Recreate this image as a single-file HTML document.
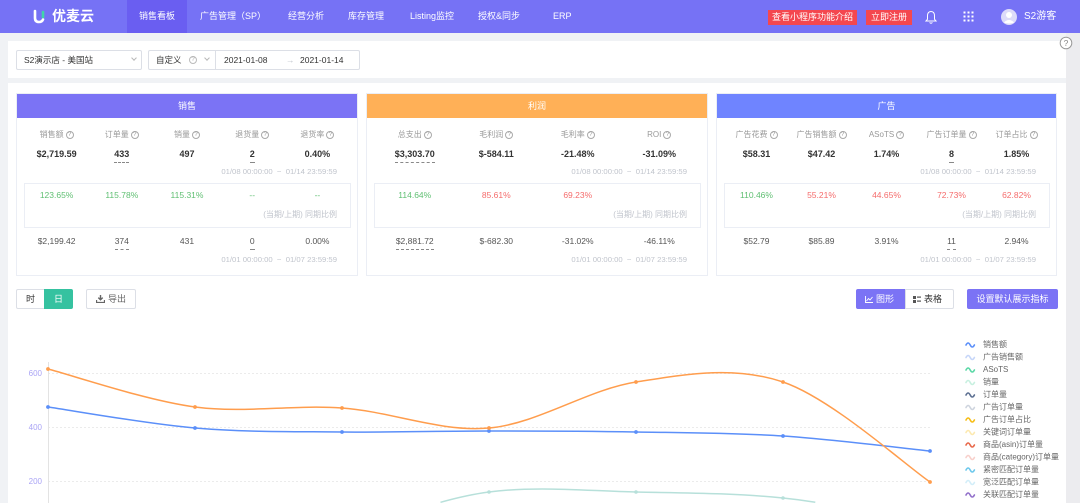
<!DOCTYPE html>
<html><head><meta charset="utf-8">
<style>
*{box-sizing:border-box;margin:0;padding:0}
body{width:1080px;height:503px;overflow:hidden;position:relative;background:#f0f2f5;font-family:"Liberation Sans","Noto Sans CJK SC",sans-serif;color:#333}
.a{position:absolute}
.nav{left:0;top:0;width:1080px;height:33px;background:#7672f5}
.ni{position:absolute;top:0;height:33px;line-height:33px;font-size:9px;color:#fff;white-space:nowrap}
.rb{position:absolute;top:10px;height:15px;line-height:15px;font-size:9px;color:#fff;background:#f4474f;text-align:center;white-space:nowrap}
.wbox{position:absolute;background:#fff}
.fb{position:absolute;top:50px;height:20px;border:1px solid #dcdfe6;border-radius:2px;background:#fff;font-size:8.5px;line-height:18px;color:#333;white-space:nowrap}
.chev{position:absolute;width:4px;height:4px;border-right:1px solid #b8b8b8;border-bottom:1px solid #b8b8b8;transform:rotate(45deg)}
.q{display:inline-block;width:8px;height:8px;border:1px solid #aaa;border-radius:50%;font-size:6px;line-height:6px;text-align:center;color:#999;margin-left:2px;vertical-align:middle;font-family:"Liberation Sans",sans-serif}
.card{position:absolute;top:93px;height:183px;border:1px solid #ebeef5;background:#fff}
.hd{height:24px;line-height:24px;text-align:center;color:#fff;font-size:9px}
.row{position:absolute;left:7px;right:7px;display:flex;line-height:12px;white-space:nowrap}
.row>div{flex:1;text-align:center}
.lab{font-size:8px;color:#999}
.val{font-size:9px;font-weight:bold;color:#333}
.val2{font-size:8.5px;color:#555}
.pct{font-size:8.5px}
.g{color:#5fbf72}.r{color:#f56c6c}
.dt{position:absolute;right:20px;font-size:7.7px;line-height:12px;color:#c0c4cc;white-space:nowrap}
.box{position:absolute;left:7px;right:6px;top:89px;height:45px;border:1px solid #ebeef5}
.u{display:inline-block;border-bottom:1px dashed #888;padding-bottom:2px;line-height:11px}
.btn{position:absolute;top:289px;height:20px;line-height:18px;font-size:9px;text-align:center;white-space:nowrap;border:1px solid #dcdfe6;background:#fff;color:#333}
</style></head><body>

<!-- NAV -->
<div class="a nav"></div>
<div class="a" style="left:127px;top:0;width:60px;height:33px;background:#6a5ef1"></div>
<svg class="a" style="left:32px;top:9px" width="14" height="16">
  <path d="M3 2 L3 9 Q3 13 7 13 Q10 13 11 10.5" fill="none" stroke="#fff" stroke-width="2.6" stroke-linecap="round"/>
  <path d="M11 3 L11 8" stroke="#3fd6a9" stroke-width="2.6" stroke-linecap="round"/>
</svg>
<div class="ni" style="left:52px;font-size:14px;font-weight:bold">优麦云</div>
<div class="ni" style="left:139px">销售看板</div>
<div class="ni" style="left:200px">广告管理（SP）</div>
<div class="ni" style="left:288px">经营分析</div>
<div class="ni" style="left:348px">库存管理</div>
<div class="ni" style="left:410px">Listing监控</div>
<div class="ni" style="left:478px">授权&amp;同步</div>
<div class="ni" style="left:553px">ERP</div>
<div class="rb" style="left:768px;width:89px">查看小程序功能介绍</div>
<div class="rb" style="left:866px;width:46px">立即注册</div>
<svg class="a" style="left:925px;top:10px" width="12" height="15">
  <path d="M6 1.5 C3.4 1.5 2.5 3.6 2.5 6 L2.5 9.2 L1 11 L11 11 L9.5 9.2 L9.5 6 C9.5 3.6 8.6 1.5 6 1.5Z" fill="none" stroke="#fff" stroke-width="1"/>
  <path d="M4.6 12.4 Q6 14 7.4 12.4" fill="none" stroke="#fff" stroke-width="1"/>
</svg>
<svg class="a" style="left:963px;top:11px" width="12" height="12" fill="#fff">
  <rect x="0.5" y="0.5" width="2" height="2"/><rect x="4.5" y="0.5" width="2" height="2"/><rect x="8.5" y="0.5" width="2" height="2"/>
  <rect x="0.5" y="4.5" width="2" height="2"/><rect x="4.5" y="4.5" width="2" height="2"/><rect x="8.5" y="4.5" width="2" height="2"/>
  <rect x="0.5" y="8.5" width="2" height="2"/><rect x="4.5" y="8.5" width="2" height="2"/><rect x="8.5" y="8.5" width="2" height="2"/>
</svg>
<svg class="a" style="left:1001px;top:9px" width="16" height="16">
  <circle cx="8" cy="8" r="8" fill="#dddbf9"/>
  <circle cx="8" cy="6" r="3" fill="#fff"/>
  <path d="M2.8 13.5 Q8 8.5 13.2 13.5 Q8 15.5 2.8 13.5Z" fill="#fff"/>
</svg>
<div class="ni" style="left:1024px;font-size:10px">S2游客</div>

<!-- right strip -->
<div class="a" style="left:1066px;top:33px;width:14px;height:470px;background:#ececef"></div>

<!-- FILTER BAR -->
<div class="wbox" style="left:8px;top:41px;width:1058px;height:37px"></div>
<div class="fb" style="left:16px;width:126px;padding-left:7px">S2演示店 - 美国站<span class="chev" style="left:115px;top:5px"></span></div>
<div class="fb" style="left:148px;width:212px">
  <span class="a" style="left:7px">自定义</span>
  <span class="a" style="left:40px;top:5px;width:8px;height:8px;border:1px solid #bbb;border-radius:50%;font-size:6px;line-height:6px;text-align:center;color:#aaa">?</span>
  <span class="chev" style="left:56px;top:5px"></span>
  <span class="a" style="left:66px;top:0;width:1px;height:18px;background:#dcdfe6"></span>
  <span class="a" style="left:75px">2021-01-08</span>
  <span class="a" style="left:137px;color:#c0c4cc">→</span>
  <span class="a" style="left:151px">2021-01-14</span>
</div>
<svg class="a" style="left:1059px;top:36px" width="14" height="14">
  <circle cx="7" cy="7" r="5.8" fill="#fff" stroke="#999" stroke-width="1"/>
  <text x="7" y="10" text-anchor="middle" font-size="8.5" fill="#888" font-family="Liberation Sans">?</text>
</svg>

<!-- MAIN WHITE -->
<div class="wbox" style="left:8px;top:83px;width:1058px;height:420px"></div>

<!-- CARD 1 -->
<div class="card" style="left:16px;width:342px">
  <div class="hd" style="background:#7b73f5">销售</div>
  <div class="row lab" style="top:35px"><div>销售额<span class="q">?</span></div><div>订单量<span class="q">?</span></div><div>销量<span class="q">?</span></div><div>退货量<span class="q">?</span></div><div>退货率<span class="q">?</span></div></div>
  <div class="row val" style="top:54px"><div>$2,719.59</div><div><span class="u">433</span></div><div>497</div><div><span class="u">2</span></div><div>0.40%</div></div>
  <div class="dt" style="top:72px">01/08 00:00:00 &nbsp;~ &nbsp;01/14 23:59:59</div>
  <div class="box"></div>
  <div class="row pct" style="top:95px"><div class="g">123.65%</div><div class="g">115.78%</div><div class="g">115.31%</div><div class="g">--</div><div class="g">--</div></div>
  <div class="dt" style="top:115px;font-size:8px">(当期/上期) 同期比例</div>
  <div class="row val2" style="top:141px"><div>$2,199.42</div><div><span class="u">374</span></div><div>431</div><div><span class="u">0</span></div><div>0.00%</div></div>
  <div class="dt" style="top:160px">01/01 00:00:00 &nbsp;~ &nbsp;01/07 23:59:59</div>
</div>

<!-- CARD 2 -->
<div class="card" style="left:366px;width:342px">
  <div class="hd" style="background:#ffb057">利润</div>
  <div class="row lab" style="top:35px"><div>总支出<span class="q">?</span></div><div>毛利润<span class="q">?</span></div><div>毛利率<span class="q">?</span></div><div>ROI<span class="q">?</span></div></div>
  <div class="row val" style="top:54px"><div><span class="u">$3,303.70</span></div><div>$-584.11</div><div>-21.48%</div><div>-31.09%</div></div>
  <div class="dt" style="top:72px">01/08 00:00:00 &nbsp;~ &nbsp;01/14 23:59:59</div>
  <div class="box"></div>
  <div class="row pct" style="top:95px"><div class="g">114.64%</div><div class="r">85.61%</div><div class="r">69.23%</div><div></div></div>
  <div class="dt" style="top:115px;font-size:8px">(当期/上期) 同期比例</div>
  <div class="row val2" style="top:141px"><div><span class="u">$2,881.72</span></div><div>$-682.30</div><div>-31.02%</div><div>-46.11%</div></div>
  <div class="dt" style="top:160px">01/01 00:00:00 &nbsp;~ &nbsp;01/07 23:59:59</div>
</div>

<!-- CARD 3 -->
<div class="card" style="left:716px;width:341px">
  <div class="hd" style="background:#6f84ff">广告</div>
  <div class="row lab" style="top:35px"><div>广告花费<span class="q">?</span></div><div>广告销售额<span class="q">?</span></div><div>ASoTS<span class="q">?</span></div><div>广告订单量<span class="q">?</span></div><div>订单占比<span class="q">?</span></div></div>
  <div class="row val" style="top:54px"><div>$58.31</div><div>$47.42</div><div>1.74%</div><div><span class="u">8</span></div><div>1.85%</div></div>
  <div class="dt" style="top:72px">01/08 00:00:00 &nbsp;~ &nbsp;01/14 23:59:59</div>
  <div class="box"></div>
  <div class="row pct" style="top:95px"><div class="g">110.46%</div><div class="r">55.21%</div><div class="r">44.65%</div><div class="r">72.73%</div><div class="r">62.82%</div></div>
  <div class="dt" style="top:115px;font-size:8px">(当期/上期) 同期比例</div>
  <div class="row val2" style="top:141px"><div>$52.79</div><div>$85.89</div><div>3.91%</div><div><span class="u">11</span></div><div>2.94%</div></div>
  <div class="dt" style="top:160px">01/01 00:00:00 &nbsp;~ &nbsp;01/07 23:59:59</div>
</div>

<!-- TOOLBAR -->
<div class="btn" style="left:16px;width:29px;border-radius:2px 0 0 2px">时</div>
<div class="btn" style="left:44px;width:29px;background:#35c2a0;border-color:#35c2a0;color:#fff;border-radius:0 2px 2px 0">日</div>
<div class="btn" style="left:86px;width:50px;color:#666;border-radius:2px">
  <svg style="position:absolute;left:9px;top:5px" width="9" height="8"><path d="M4.5 0 L4.5 4.5 M2.3 2.6 L4.5 4.8 L6.7 2.6" stroke="#666" stroke-width="1.4" fill="none"/><path d="M0.5 5 L0.5 7.5 L8.5 7.5 L8.5 5" stroke="#666" stroke-width="1.3" fill="none"/></svg>
  <span style="position:absolute;left:21px">导出</span>
</div>
<div class="btn" style="left:856px;width:50px;background:#7b73f5;border-color:#7b73f5;color:#fff;border-radius:2px 0 0 2px">
  <svg style="position:absolute;left:8px;top:6px" width="8" height="7"><path d="M0.5 0 L0.5 6.5 L8 6.5 M1.5 5 L3.5 2.5 L5 4 L7.5 1" stroke="#fff" stroke-width="0.9" fill="none"/></svg>
  <span style="position:absolute;left:19px">图形</span>
</div>
<div class="btn" style="left:905px;width:49px;border-radius:0 2px 2px 0">
  <svg style="position:absolute;left:7px;top:6px" width="8" height="7" fill="#555"><rect x="0" y="0" width="3" height="3"/><rect x="0" y="4" width="3" height="3"/><rect x="4" y="0.5" width="4" height="1.2"/><rect x="4" y="4.5" width="4" height="1.2"/></svg>
  <span style="position:absolute;left:18px">表格</span>
</div>
<div class="btn" style="left:967px;width:91px;background:#7b73f5;border-color:#7b73f5;color:#fff;border-radius:2px">设置默认展示指标</div>

<!-- CHART -->
<svg class="a" style="left:0;top:0" width="1080" height="503" font-family="Liberation Sans, Noto Sans CJK SC, sans-serif">
  <g stroke="#ebebeb" stroke-width="1" stroke-dasharray="2,2">
    <line x1="48" y1="373.5" x2="931" y2="373.5"/>
    <line x1="48" y1="427.5" x2="931" y2="427.5"/>
    <line x1="48" y1="481.5" x2="931" y2="481.5"/>
  </g>
  <line x1="48.5" y1="362" x2="48.5" y2="503" stroke="#e3e3e3" stroke-width="1"/>
  <g font-size="8" fill="#aaa4f5" text-anchor="end">
    <text x="42" y="376">600</text>
    <text x="42" y="430">400</text>
    <text x="42" y="484">200</text>
  </g>
  <path d="M440.5,502.3 C456.7,497.8 472.8,494.1 489,492 C538,485.7 587,491 636,492 C685,493 734,493 783,498 C793.8,499.1 804.6,500.5 815.3,502.2" fill="none" stroke="#b7e0da" stroke-width="1.5"/>
  <g fill="#b7e0da"><circle cx="489" cy="492" r="1.8"/><circle cx="636" cy="492" r="1.8"/><circle cx="783" cy="498" r="1.8"/></g>
  <path d="M48,407 C72.5,410.5 146,423.8 195,428 C244,432.2 293,431.5 342,432 C391,432.5 440,431 489,431 C538,431 587,431.2 636,432 C685,432.8 734,432.8 783,436 C832,439.2 905.5,448.5 930,451" fill="none" stroke="#5b8ff9" stroke-width="1.5"/>
  <g fill="#5b8ff9"><circle cx="48" cy="407" r="1.9"/><circle cx="195" cy="428" r="1.9"/><circle cx="342" cy="432" r="1.9"/><circle cx="489" cy="431" r="1.9"/><circle cx="636" cy="432" r="1.9"/><circle cx="783" cy="436" r="1.9"/><circle cx="930" cy="451" r="1.9"/></g>
  <path d="M48,369 C72.5,375.3 146,400.5 195,407 C244,413.5 293,404.5 342,408 C391,411.5 440,432.3 489,428 C538,423.7 587,389.7 636,382 C685,374.3 734,365.3 783,382 C832,398.7 905.5,465.3 930,482" fill="none" stroke="#ff9d4d" stroke-width="1.5"/>
  <g fill="#ff9d4d"><circle cx="48" cy="369" r="1.9"/><circle cx="195" cy="407" r="1.9"/><circle cx="342" cy="408" r="1.9"/><circle cx="489" cy="428" r="1.9"/><circle cx="636" cy="382" r="1.9"/><circle cx="783" cy="382" r="1.9"/><circle cx="930" cy="482" r="1.9"/></g>

  <!-- legend -->
  <g fill="none" stroke-width="1.6" stroke-linecap="round">
    <path d="M966,345 q2.1,-4 4.2,0 t4.2,0" stroke="#5b8ff9"/>
    <path d="M966,357.5 q2.1,-4 4.2,0 t4.2,0" stroke="#c6d6f9"/>
    <path d="M966,370 q2.1,-4 4.2,0 t4.2,0" stroke="#5ad8a6"/>
    <path d="M966,382.5 q2.1,-4 4.2,0 t4.2,0" stroke="#c8f0e0"/>
    <path d="M966,395 q2.1,-4 4.2,0 t4.2,0" stroke="#5d7092"/>
    <path d="M966,407.5 q2.1,-4 4.2,0 t4.2,0" stroke="#ced4de"/>
    <path d="M966,420 q2.1,-4 4.2,0 t4.2,0" stroke="#f6bd16"/>
    <path d="M966,432.5 q2.1,-4 4.2,0 t4.2,0" stroke="#fce9b0"/>
    <path d="M966,445 q2.1,-4 4.2,0 t4.2,0" stroke="#e8684a"/>
    <path d="M966,457.5 q2.1,-4 4.2,0 t4.2,0" stroke="#f8d0cb"/>
    <path d="M966,470 q2.1,-4 4.2,0 t4.2,0" stroke="#6dc8ec"/>
    <path d="M966,482.5 q2.1,-4 4.2,0 t4.2,0" stroke="#d3eef9"/>
    <path d="M966,495 q2.1,-4 4.2,0 t4.2,0" stroke="#9270ca"/>
  </g>
  <g font-size="8" fill="#666">
    <text x="983" y="347">销售额</text>
    <text x="983" y="359.5">广告销售额</text>
    <text x="983" y="372">ASoTS</text>
    <text x="983" y="384.5">销量</text>
    <text x="983" y="397">订单量</text>
    <text x="983" y="409.5">广告订单量</text>
    <text x="983" y="422">广告订单占比</text>
    <text x="983" y="434.5">关键词订单量</text>
    <text x="983" y="447">商品(asin)订单量</text>
    <text x="983" y="459.5">商品(category)订单量</text>
    <text x="983" y="472">紧密匹配订单量</text>
    <text x="983" y="484.5">宽泛匹配订单量</text>
    <text x="983" y="497">关联匹配订单量</text>
  </g>
</svg>
</body></html>
